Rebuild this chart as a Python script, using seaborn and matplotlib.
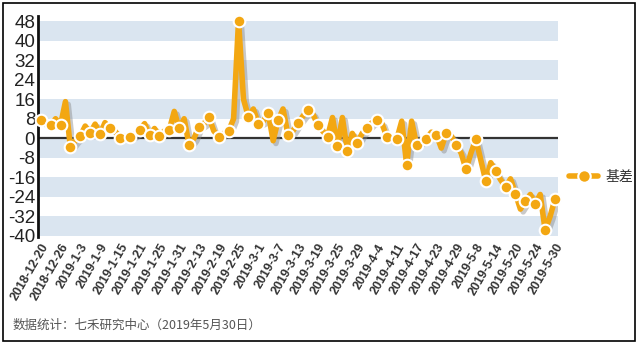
import numpy as np
import pandas as pd
import matplotlib
matplotlib.use("Agg")
import matplotlib.pyplot as plt
import matplotlib.patheffects as pe
from matplotlib.lines import Line2D
from matplotlib.patches import Rectangle
import seaborn as sns

# ---- data ----
tick_labels = ["2018-12-20", "2018-12-26", "2019-1-3", "2019-1-9", "2019-1-15", "2019-1-21",
               "2019-1-25", "2019-1-31", "2019-2-13", "2019-2-19", "2019-2-25", "2019-3-1",
               "2019-3-7", "2019-3-13", "2019-3-19", "2019-3-25", "2019-3-29", "2019-4-4",
               "2019-4-11", "2019-4-17", "2019-4-23", "2019-4-29", "2019-5-8", "2019-5-14",
               "2019-5-20", "2019-5-24", "2019-5-30"]
basis = [7.4, 6, 5.4, 8, 5.4, 15, -3.7, -1, 1.0, 5,
         2.2, 5.8, 1.7, 6.4, 4.0, 3, 0.3, 1, 0.6, 1.5,
         3.5, 6, 1.4, 4, 1.0, 3, 3.5, 11, 4.1, 8,
         -2.8, 0, 4.8, 6, 8.7, 3, 0.7, 2, 3.0, 8,
         48.2, 16, 8.7, 12, 6.0, 7, 10.4, -1, 7.4, 12,
         1.3, 3, 6.3, 9, 11.6, 10, 5.6, 3, 0.7, 8.5,
         -3.3, 8.5, -5.4, 2, -1.8, 2, 4.3, 6.4, 7.4, 6,
         0.6, 0, -0.4, 7, -10.8, 7, -2.6, -1, -0.1, 2.5,
         1.5, -4, 2.2, 1, -2.6, -6, -12.7, -6, -0.4, -9,
         -17.5, -10, -13.6, -17, -20, -16.6, -22.7, -29, -25.8, -23,
         -26.7, -23, -37.6, -32, -24.8]
series_name = "基差"
footer = "数据统计：七禾研究中心（2019年5月30日）"
y_ticks = [48, 40, 32, 24, 16, 8, 0, -8, -16, -24, -32, -40]

ORANGE = "#F3A712"
BAND = "#DAE5F0"

df = pd.DataFrame({"idx": np.arange(len(basis)), "value": basis})
df_mark = df.iloc[::2]

sns.set_theme(style="white")
plt.rcParams["font.family"] = ["Liberation Sans", "DejaVu Sans"]

fig = plt.figure(figsize=(6.43, 3.43), dpi=100)
W, H = 643, 343
ax = fig.add_axes([38 / W, 1 - 236 / H, (558 - 38) / W, (236 - 21) / H])

# bands
for lo in [40, 24, 8, -8, -24, -40]:
    ax.axhspan(lo, lo + 8, color=BAND, lw=0, zorder=0)
ax.axhline(0, color="#333333", lw=1.6, zorder=1)

shadow = [pe.SimpleLineShadow(offset=(2, -2), shadow_color="#888888", alpha=0.45), pe.Normal()]
sns.lineplot(data=df, x="idx", y="value", ax=ax, color=ORANGE, linewidth=4,
             path_effects=shadow, zorder=3, legend=False)
sns.scatterplot(data=df_mark, x="idx", y="value", ax=ax, color=ORANGE, s=70,
                edgecolor="white", linewidth=1.5, zorder=4, legend=False, clip_on=False)

ax.set_xlim(-0.55, len(basis) - 1 + 0.6)
ax.set_ylim(-40, 48)
ax.set_yticks(y_ticks)
ax.set_yticklabels([str(v) for v in y_ticks], fontsize=13.5, color="#222222")
ax.set_xticks(np.arange(0, len(basis), 4))
ax.set_xticklabels(tick_labels, rotation=60, ha="right", va="top", rotation_mode="anchor",
                   fontsize=9, fontweight="bold", color="#333333")
ax.tick_params(axis="both", length=0, pad=2)
ax.tick_params(axis="x", pad=4)
ax.set_xlabel("")
ax.set_ylabel("")
for s in ["top", "right", "bottom"]:
    ax.spines[s].set_visible(False)
ax.spines["left"].set_color("#111111")
ax.spines["left"].set_linewidth(2)
ax.spines["left"].set_bounds(-40.5, 50)

# legend
handle = Line2D([], [], color=ORANGE, lw=4, marker="o", markersize=9,
                markerfacecolor=ORANGE, markeredgecolor="white", markeredgewidth=1.5)
leg = fig.legend([handle], [series_name], loc="center left", bbox_to_anchor=(569 / W, 1 - 177 / H),
                 frameon=False, handlelength=2.1, handletextpad=0.5, borderpad=0, borderaxespad=0,
                 prop={"family": ["Noto Sans CJK SC", "DejaVu Sans"], "size": 10})
for t in leg.get_texts():
    t.set_color("#333333")

fig.text(13 / W, 1 - 325 / H, footer, fontsize=9, color="#555555",
         family=["Noto Sans CJK SC", "DejaVu Sans"], va="center", ha="left")

fig.patches.append(Rectangle((3 / W, 2 / H), (635 - 3) / W, (340 - 2) / H,
                             transform=fig.transFigure, fill=False, edgecolor="black", lw=1.2))

fig.savefig("out.png", dpi=100)
